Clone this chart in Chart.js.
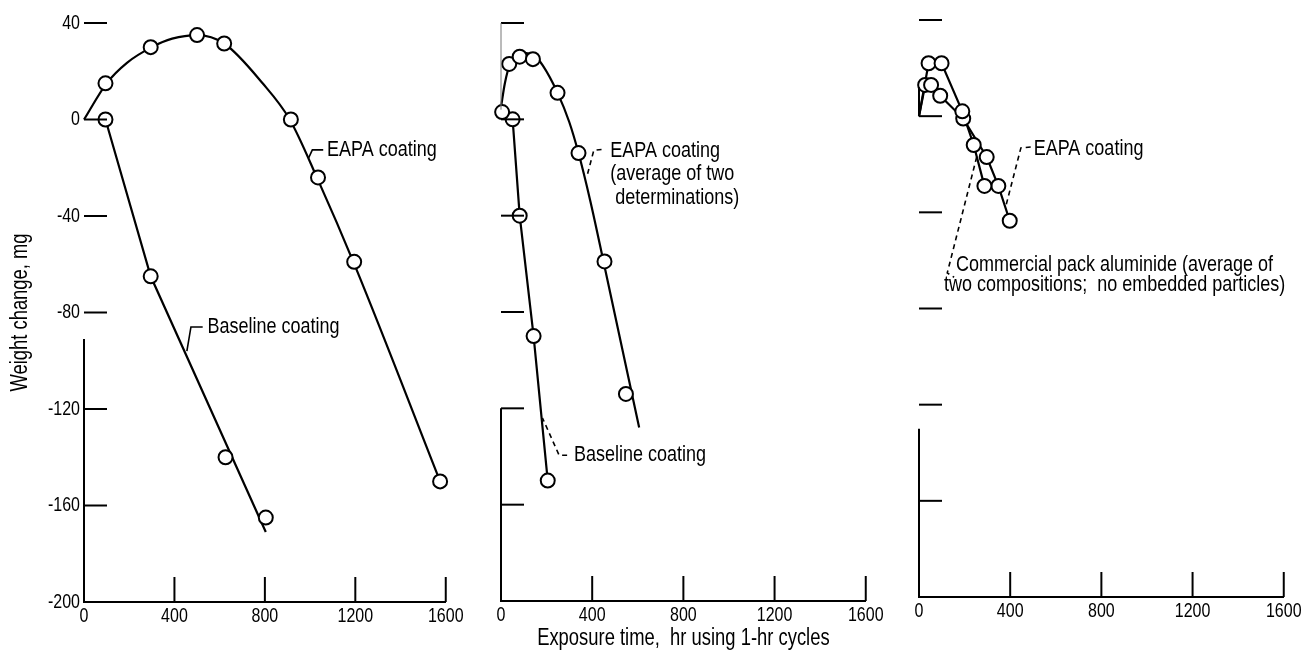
<!DOCTYPE html>
<html><head><meta charset="utf-8">
<script src="https://cdn.jsdelivr.net/npm/chart.js@4.4.0/dist/chart.umd.min.js"></script>
<style>
html,body{margin:0;padding:0;background:#fff;}
#wrap{position:relative;width:1308px;height:652px;overflow:hidden;}
.p{position:absolute;top:0;height:652px;}
</style></head><body>
<div id="wrap">
<div class="p" style="left:0;width:470px"><canvas id="c1"></canvas></div>
<div class="p" style="left:470px;width:420px"><canvas id="c2"></canvas></div>
<div class="p" style="left:890px;width:418px"><canvas id="c3"></canvas></div>
</div>
<script>
// ---------- axes ----------
const xTickValues = [0, 400, 800, 1200, 1600];
const xTickLabels = ['0', '400', '800', '1200', '1600'];
const yTickValues = [40, 0, -40, -80, -120, -160, -200];
const yTickLabels = ['40', '0', '-40', '-80', '-120', '-160', '-200'];
const xMarkValues = [400, 800, 1200, 1600];
const yMarkValues = [40, 0, -40, -80, -120, -160];

// ---------- panel 1 ----------
const p1EapaHours  = [95, 295, 500, 620, 915, 1035, 1195, 1575];
const p1EapaWeight = [15, 30, 35, 31.5, 0, -24, -59, -150];
const p1EapaCurveHours  = [0, 100, 190, 300, 390, 500, 620, 790, 910, 1030, 1200, 1575];
const p1EapaCurveWeight = [0, 15, 23.5, 30, 33.5, 35, 31.5, 15, 0, -24, -61, -150];
const p1BaseHours  = [95, 295, 626, 804];
const p1BaseWeight = [0, -65, -140, -165];
const p1BaseLineHours  = [95, 295, 804];
const p1BaseLineWeight = [0, -65, -171];

// ---------- panel 2 ----------
const p2EapaHours  = [5, 36, 82, 140, 248, 340, 454, 548];
const p2EapaWeight = [3, 23, 26, 25, 11, -14, -59, -114];
const p2EapaCurveHours  = [0, 17, 40, 80, 111, 145, 183, 248, 299, 340, 392, 454, 606];
const p2EapaCurveWeight = [5, 15, 23, 27, 27.5, 26.5, 22.4, 11, -1, -14, -34, -61, -128];
const p2BaseHours  = [51, 82, 143, 205];
const p2BaseWeight = [0, -40, -90, -150];

// ---------- panel 3 ----------
const p3CommHours  = [42, 99, 190, 240, 287];
const p3CommWeight = [22, 22, 2, -12, -29];
const p3EapaHours  = [27, 53, 93, 194, 297, 348, 398];
const p3EapaWeight = [13, 13, 8.5, -1, -17, -29, -43.5];
const startHours = [0];
const startWeight = [0];

const FAMILY = "'Liberation Sans', Arial, sans-serif";

// condensed look: draw all canvas text horizontally squeezed (like a narrow typeface)
const SQUEEZE = 0.8;
const _fillText = CanvasRenderingContext2D.prototype.fillText;
CanvasRenderingContext2D.prototype.fillText = function (t, x, y, maxW) {
  this.save();
  this.translate(x, y);
  this.scale(SQUEEZE, 1);
  if (maxW !== undefined && maxW !== null) _fillText.call(this, t, 0, 0, maxW / SQUEEZE);
  else _fillText.call(this, t, 0, 0);
  this.restore();
};

function xy(xs, ys) { return xs.map((x, i) => ({x: x, y: ys[i]})); }
function pointsDs(xs, ys) {
  return {data: xy(xs, ys), showLine: false, pointRadius: 7, pointHoverRadius: 7, clip: false,
          pointBorderWidth: 2, pointBorderColor: '#000', pointBackgroundColor: '#fff'};
}
function curveDs(xs, ys, smooth) {
  return {data: xy(xs, ys), showLine: true, pointRadius: 0, pointHoverRadius: 0, clip: false,
          borderColor: '#000', borderWidth: 2.2, fill: false, tension: 0,
          cubicInterpolationMode: smooth ? 'monotone' : 'default'};
}

const axisPlugin = {
  id: 'customAxes',
  afterDatasetsDraw(chart, args, o) {
    const {ctx, chartArea, scales} = chart;
    const x = scales.x, y = scales.y;
    ctx.save();
    ctx.strokeStyle = '#000';
    ctx.lineWidth = 2;
    yMarkValues.forEach(v => {
      const py = y.getPixelForValue(v);
      ctx.beginPath(); ctx.moveTo(chartArea.left, py); ctx.lineTo(chartArea.left + 23, py); ctx.stroke();
    });
    xMarkValues.forEach(v => {
      const px = x.getPixelForValue(v);
      ctx.beginPath(); ctx.moveTo(px, chartArea.bottom); ctx.lineTo(px, chartArea.bottom - 25); ctx.stroke();
    });
    (o.segments || []).forEach(s => {
      ctx.save();
      ctx.lineWidth = s.w;
      ctx.strokeStyle = s.c;
      ctx.beginPath();
      ctx.moveTo(chartArea.left, y.getPixelForValue(s.from));
      ctx.lineTo(chartArea.left, y.getPixelForValue(s.to));
      ctx.stroke();
      ctx.restore();
    });
    ctx.restore();
  }
};

const annotPlugin = {
  id: 'annot',
  afterDatasetsDraw(chart, args, o) {
    const {ctx, scales} = chart;
    const x = scales.x, y = scales.y;
    ctx.save();
    ctx.strokeStyle = '#000';
    ctx.lineWidth = 1.6;
    (o.leaders || []).forEach(l => {
      ctx.setLineDash(l.dash ? [5, 4] : []);
      ctx.beginPath();
      l.pts.forEach((p, i) => {
        const px = x.getPixelForValue(p[0]), py = y.getPixelForValue(p[1]);
        if (i === 0) ctx.moveTo(px, py); else ctx.lineTo(px, py);
      });
      ctx.stroke();
    });
    ctx.setLineDash([]);
    ctx.fillStyle = '#000';
    ctx.font = '22.5px ' + FAMILY;
    ctx.textAlign = 'left';
    ctx.textBaseline = 'middle';
    (o.texts || []).forEach(t => {
      const px = x.getPixelForValue(t.x), py = y.getPixelForValue(t.y);
      t.lines.forEach((s, i) => ctx.fillText(s, px, py + i * 23.5));
    });
    ctx.restore();
  }
};

function makeChart(id, datasets, o) {
  return new Chart(document.getElementById(id), {
    type: 'scatter',
    data: {datasets: datasets},
    plugins: [axisPlugin, annotPlugin],
    options: {
      responsive: true, maintainAspectRatio: false, animation: false,
      layout: {padding: {top: o.top, right: o.right, bottom: 0, left: 0}},
      plugins: {
        legend: {display: false}, tooltip: {enabled: false},
        customAxes: {segments: o.segments},
        annot: {texts: o.texts, leaders: o.leaders}
      },
      scales: {
        x: {
          type: 'linear', position: 'bottom', min: 0, max: 1600,
          afterBuildTicks: s => { s.ticks = xTickValues.map(v => ({value: v})); },
          ticks: {autoSkip: false, maxRotation: 0, padding: 2, color: '#000',
                  font: {family: FAMILY, size: 20}, callback: (v, i) => xTickLabels[i]},
          grid: {display: false, drawTicks: false},
          border: {display: true, color: '#000', width: 2},
          title: o.xTitle ? {display: true, text: o.xTitle, color: '#000',
                  font: {family: FAMILY, size: 23}, padding: {top: 0, bottom: 0}} : {display: false},
          afterFit: s => { s.height = o.xh; }
        },
        y: {
          type: 'linear', position: 'left', min: -200, max: 40,
          afterBuildTicks: s => { s.ticks = yTickValues.map(v => ({value: v})); },
          ticks: {display: o.yLabels, padding: 4, color: '#000',
                  font: {family: FAMILY, size: 20}, callback: (v, i) => yTickLabels[i]},
          grid: {display: false, drawTicks: false},
          border: {display: false},
          title: o.yTitle ? {display: true, text: o.yTitle, color: '#000',
                  font: {family: FAMILY, size: 23}, padding: {top: 7, bottom: 0}} : {display: false},
          afterFit: s => { s.width = o.yw; }
        }
      }
    }
  });
}

makeChart('c1', [
  pointsDs(p1EapaHours, p1EapaWeight),
  pointsDs(p1BaseHours, p1BaseWeight),
  curveDs(p1EapaCurveHours, p1EapaCurveWeight, true),
  curveDs(p1BaseLineHours, p1BaseLineWeight, false)
], {
  top: 23, right: 17, xh: 50, yw: 84, yLabels: true, yTitle: 'Weight change, mg',
  segments: [{from: -91, to: -200, w: 2, c: '#000'}],
  texts: [{lines: ['EAPA coating'], x: 1075, y: -12.6}, {lines: ['Baseline coating'], x: 546, y: -86}],
  leaders: [{pts: [[1058, -12.6], [1010, -12.6], [993, -16]], dash: false},
            {pts: [[525, -86], [473, -86], [455, -96]], dash: false}]
});

makeChart('c2', [
  pointsDs(p2EapaHours, p2EapaWeight),
  pointsDs(p2BaseHours, p2BaseWeight),
  curveDs(p2EapaCurveHours, p2EapaCurveWeight, true),
  curveDs(p2BaseHours, p2BaseWeight, false)
], {
  top: 23, right: 19, xh: 51, yw: 31, yLabels: false, xTitle: 'Exposure time,  hr using 1-hr cycles',
  segments: [{from: 40, to: 4, w: 1, c: '#777'}, {from: -120, to: -200, w: 2, c: '#000'}],
  texts: [{lines: ['EAPA coating', '(average of two', ' determinations)'], x: 479, y: -12.9},
          {lines: ['Baseline coating'], x: 320, y: -139.5}],
  leaders: [{pts: [[441, -12.5], [407, -12.9], [376, -24]], dash: true},
            {pts: [[290, -139.5], [255, -139.5], [182, -124]], dash: true}]
});

makeChart('c3', [
  pointsDs(p3CommHours, p3CommWeight),
  pointsDs(p3EapaHours, p3EapaWeight),
  curveDs(startHours.concat(p3CommHours), startWeight.concat(p3CommWeight), false),
  curveDs(startHours.concat(p3EapaHours), startWeight.concat(p3EapaWeight), false)
], {
  top: 20, right: 17, xh: 55, yw: 29, yLabels: false,
  segments: [{from: 12, to: 0, w: 2, c: '#000'}, {from: -130, to: -200, w: 2, c: '#000'}],
  texts: [{lines: ['EAPA coating'], x: 503, y: -13.7},
          {lines: ['Commercial pack aluminide (average of'], x: 162, y: -61.9},
          {lines: ['two compositions;  no embedded particles)'], x: 110, y: -70.2}],
  leaders: [{pts: [[490, -12.8], [447, -13.2], [382, -37]], dash: true},
            {pts: [[253, -17], [124, -65.2], [154, -67]], dash: true}]
});
</script>
</body></html>
